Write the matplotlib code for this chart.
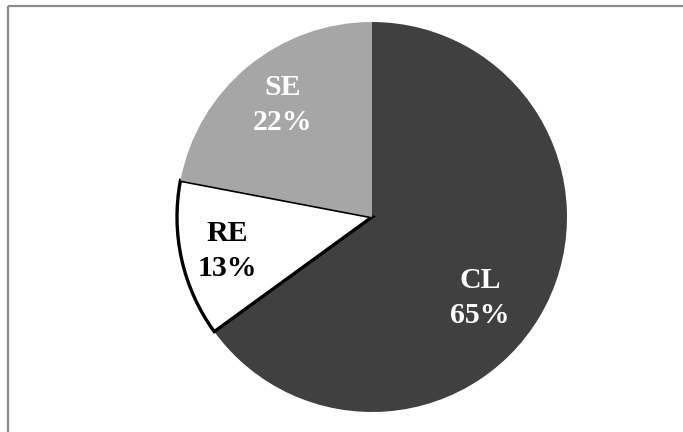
import matplotlib
matplotlib.use("Agg")
import matplotlib.pyplot as plt
from matplotlib.lines import Line2D

# Share of each category
categories = ["CL", "RE", "SE"]
shares = [65, 13, 22]
colors = ["#404040", "#ffffff", "#a6a6a6"]

W, H = 683, 432
fig = plt.figure(figsize=(W / 100, H / 100), dpi=100)
ax = fig.add_axes([0, 0, 1, 1])

cx, cy, r = 372, H - 217, 195
wedges, _ = ax.pie(shares, colors=colors, startangle=90, counterclock=False,
                   center=(cx, cy), radius=r, frame=True,
                   wedgeprops=dict(linewidth=0))
ax.set_xlim(0, W)
ax.set_ylim(0, H)
ax.set_aspect("equal")
ax.axis("off")

# chart area border (top and left edges visible)
border = dict(color="#8c8c8c", linewidth=1.6, solid_capstyle="butt")
ax.add_line(Line2D([7.5, W + 5], [H - 5.5, H - 5.5], **border))
ax.add_line(Line2D([7.5, 7.5], [-5, H - 5.5], **border))

# outline the white slice
wedges[1].set_edgecolor("black")
wedges[1].set_linewidth(2.4)
wedges[1].set_joinstyle("miter")

label_pos = [(480, 298), (227, 251), (283, 105)]
text_colors = ["white", "black", "white"]
for cat, val, (x, y), tc in zip(categories, shares, label_pos, text_colors):
    ax.text(x, H - y, f"{cat}\n{val}%", ha="center", va="center",
            fontsize=21.5, fontweight="bold", family="Liberation Serif",
            color=tc, linespacing=1.36)

fig.savefig("out.png", dpi=100)
